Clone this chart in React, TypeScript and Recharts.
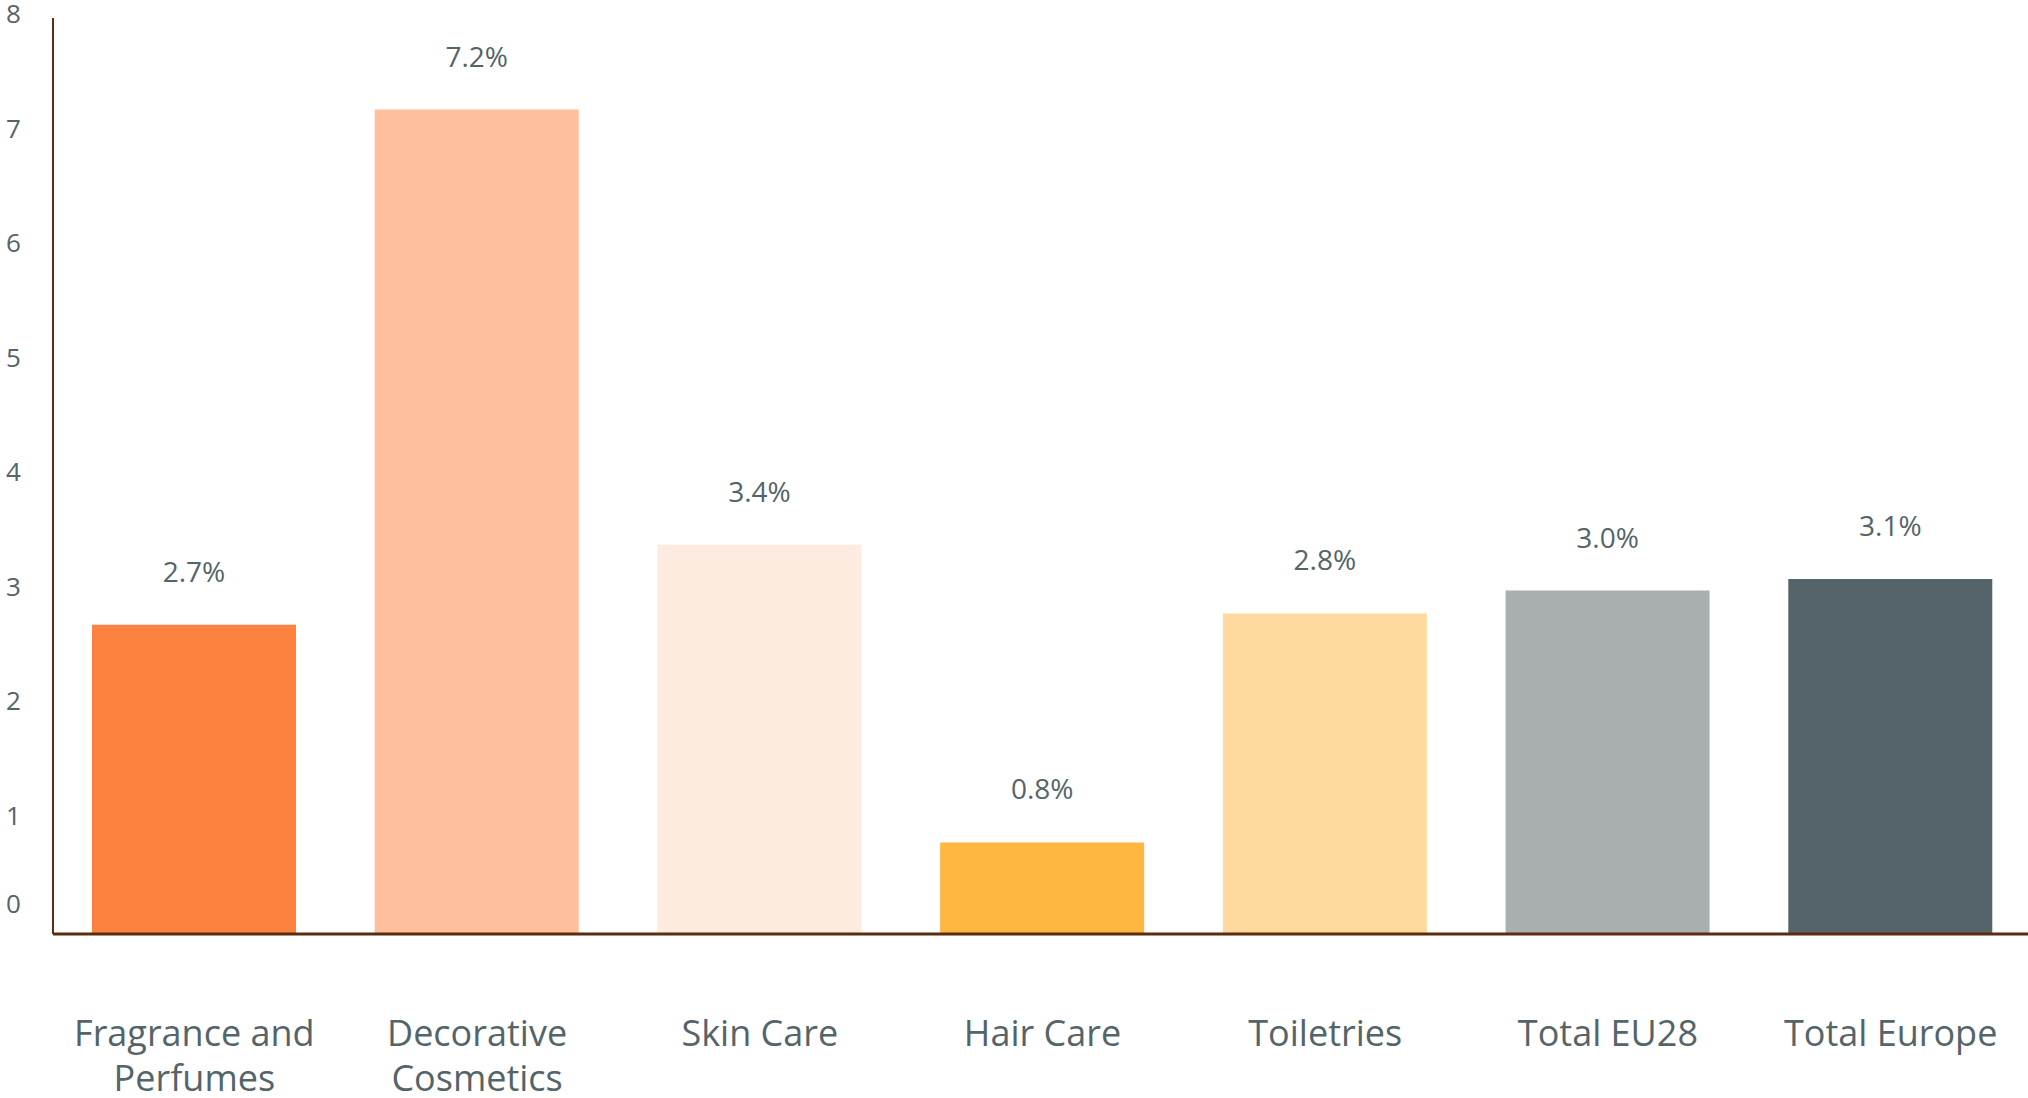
import React from 'react';
import { BarChart, Bar, XAxis, YAxis, Cell, LabelList } from 'recharts';

const categories = [
  'Fragrance and Perfumes',
  'Decorative Cosmetics',
  'Skin Care',
  'Hair Care',
  'Toiletries',
  'Total EU28',
  'Total Europe',
];
const growth = [2.7, 7.2, 3.4, 0.8, 2.8, 3.0, 3.1];
const barColors = ['#FE823F', '#FFBF9D', '#FEEBE0', '#FEB641', '#FFD99D', '#A9AFB0', '#546468'];
const yTicks = [0, 1, 2, 3, 4, 5, 6, 7, 8];

const TEXT = '#546468';
const AXIS = '#5B2C0E';
const FONT = '"Open Sans", "Noto Sans", sans-serif';

const chartData = categories.map((name, i) => ({ name, value: growth[i] }));

// greedy word wrap for the category labels
const wrap = (s: string, max: number) => {
  const lines: string[] = [];
  let cur = '';
  s.split(' ').forEach((w) => {
    const next = cur ? cur + ' ' + w : w;
    if (next.length > max && cur) {
      lines.push(cur);
      cur = w;
    } else cur = next;
  });
  if (cur) lines.push(cur);
  return lines;
};

const CategoryTick = (props: any) => {
  const { x, y, payload } = props;
  const lines = wrap(payload.value, 14);
  return (
    <text x={x} y={y} textAnchor="middle" fill={TEXT} fontSize={36} fontFamily={FONT}>
      {lines.map((l, i) => (
        <tspan key={i} x={x} dy={i === 0 ? 112 : 45}>
          {l}
        </tspan>
      ))}
    </text>
  );
};

const ValueTick = (props: any) => {
  const { y, payload } = props;
  const dy = payload.value === 0 ? -21 : 5;
  return (
    <text x={6} y={y + dy} textAnchor="start" fill={TEXT} fontSize={26} fontFamily={FONT}>
      {payload.value}
    </text>
  );
};

const ValueLabel = (props: any) => {
  const { x, y, width, value } = props;
  return (
    <text x={x + width / 2} y={y - 43} textAnchor="middle" fill={TEXT} fontSize={28} fontFamily={FONT}>
      {Number(value).toFixed(1) + '%'}
    </text>
  );
};

export default function App() {
  return (
    <div style={{ position: 'absolute', left: 0, top: 0, width: 2028, height: 1098, overflow: 'hidden', background: '#fff' }}>
      <BarChart
        width={2032}
        height={1098}
        data={chartData}
        margin={{ top: 18, right: 0, bottom: 0, left: 0 }}
        barSize={204}
      >
        <XAxis
          dataKey="name"
          height={164}
          axisLine={{ stroke: AXIS, strokeWidth: 3 }}
          tickLine={false}
          tickSize={0}
          tickMargin={0}
          interval={0}
          tick={<CategoryTick />}
        />
        <YAxis
          domain={[0, 8]}
          ticks={yTicks}
          width={53}
          axisLine={{ stroke: AXIS, strokeWidth: 2 }}
          tickLine={false}
          tick={<ValueTick />}
        />
        <Bar dataKey="value" isAnimationActive={false}>
          {chartData.map((d, i) => (
            <Cell key={d.name} fill={barColors[i]} />
          ))}
          <LabelList dataKey="value" content={<ValueLabel />} />
        </Bar>
      </BarChart>
    </div>
  );
}
